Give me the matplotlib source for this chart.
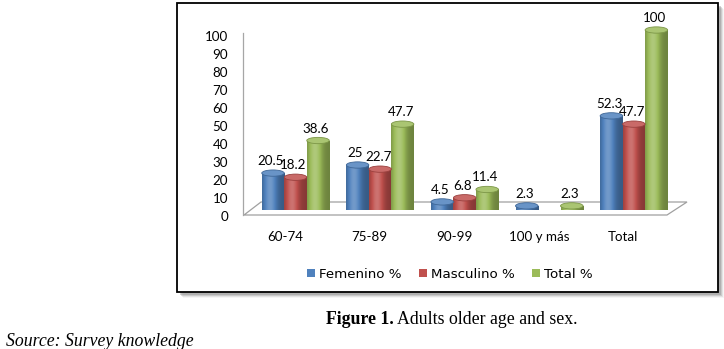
import numpy as np
import matplotlib
matplotlib.use("Agg")
import matplotlib.pyplot as plt
from matplotlib.patches import Ellipse, Patch, Polygon, Rectangle
from matplotlib.lines import Line2D

# age groups and percentages by sex
categories = ["60-74", "75-89", "90-99", "100 y más", "Total"]
femenino = [20.5, 25, 4.5, 2.3, 52.3]
masculino = [18.2, 22.7, 6.8, None, 47.7]
total = [38.6, 47.7, 11.4, 2.3, 100]
series_names = ["Femenino %", "Masculino %", "Total %"]
series_colors = ["#4F81BD", "#C0504D", "#9BBB59"]

W, H = 724, 349
fig = plt.figure(figsize=(W / 100, H / 100), dpi=100)


def px(x, y):
    # pixel position (from top-left) -> figure fraction
    return x / W, 1 - y / H


def ax_rect(left, top, right, bottom):
    return [left / W, 1 - bottom / H, (right - left) / W, (bottom - top) / H]


# frame with a soft drop shadow
for d, a in [(6, 0.08), (5, 0.15), (4, 0.25), (3, 0.35)]:
    fig.add_artist(Rectangle(px(177 + d, 292 + d), (718 - 177) / W, (292 - 3) / H,
                             transform=fig.transFigure, facecolor="#808080",
                             edgecolor="none", alpha=a, zorder=0))
fig.add_artist(Rectangle(px(177, 292), (718 - 177) / W, (292 - 3) / H,
                         transform=fig.transFigure, facecolor="white",
                         edgecolor="black", linewidth=1.3, zorder=1))

# floor of the 3D plot area and the vertical axis line
floor = [px(244, 215), px(261, 202), px(687, 202), px(667, 215)]
fig.add_artist(Polygon(floor, closed=True, transform=fig.transFigure,
                       facecolor="white", edgecolor="#A0A0A0", linewidth=0.9, zorder=2))
fig.add_artist(Line2D([243 / W, 243 / W], [1 - 33 / H, 1 - 215 / H],
                      transform=fig.transFigure, color="#A6A6A6", linewidth=0.9, zorder=2))

xlim = (-0.609, 4.628)
ylim = (0, 100)

# axis used only for the tick labels (shifted like the 3D projection)
lab = fig.add_axes(ax_rect(233.5, 36, 676.5, 216))
lab.set_zorder(3)
lab.set_xlim(xlim)
lab.set_ylim(ylim)
lab.patch.set_visible(False)
for s in lab.spines.values():
    s.set_visible(False)
lab.set_yticks(range(0, 101, 10))
lab.set_xticks(range(len(categories)), categories)
lab.tick_params(axis="both", length=0, labelsize=9.6, colors="black")
lab.tick_params(axis="y", pad=4)
lab.tick_params(axis="x", pad=10.5)
for t in lab.get_xticklabels() + lab.get_yticklabels():
    t.set_fontfamily("Lato")

ax = fig.add_axes(ax_rect(244, 30, 687, 210))
ax.set_zorder(4)
ax.patch.set_visible(False)
ax.axis("off")


def shaded(rgb, n=64):
    t = np.linspace(0, 1, n)
    f = 0.7 + 0.5 * np.exp(-((t - 0.35) / 0.3) ** 2)
    rgb = np.array(rgb)
    out = np.empty((1, n, 3))
    for i, v in enumerate(f):
        if v <= 1:
            out[0, i] = rgb * v
        else:
            out[0, i] = rgb + (1 - rgb) * (v - 1)
    return np.clip(out, 0, 1)


w = 0.266
eh = 3.5
x = np.arange(len(categories))
for k, (vals, color) in enumerate(zip([femenino, masculino, total], series_colors)):
    rgb = matplotlib.colors.to_rgb(color)
    grad = shaded(rgb)
    top_col = np.clip(np.array(rgb) + (1 - np.array(rgb)) * 0.15, 0, 1)
    rim_col = np.array(rgb) * 0.8
    heights = [np.nan if v is None else v for v in vals]
    bars = ax.bar(x + (k - 1) * w, heights, width=w, color=color, linewidth=0, zorder=3)
    for rect, v in zip(bars, vals):
        if v is None:
            continue
        x0 = rect.get_x()
        x1 = x0 + rect.get_width()
        xc = (x0 + x1) / 2
        im = ax.imshow(grad, extent=(x0, x1, -eh / 2, v), aspect="auto", zorder=3.1,
                       interpolation="bilinear")
        im.set_clip_path(rect)
        base = Ellipse((xc, 0), w, eh, facecolor="none", edgecolor="none")
        ax.add_patch(base)
        im2 = ax.imshow(grad, extent=(x0, x1, -eh / 2, eh / 2), aspect="auto",
                        zorder=3.1, interpolation="bilinear")
        im2.set_clip_path(base)
        ax.add_patch(Ellipse((xc, v), w, eh, facecolor=top_col, edgecolor=rim_col,
                             linewidth=0.6, zorder=3.2, clip_on=False))
        ax.annotate(f"{v:g}", (xc, v), xytext=(-2, 12), textcoords="offset pixels",
                    ha="center", va="center", fontsize=9.6, fontfamily="Lato",
                    annotation_clip=False, zorder=4)

ax.set_xlim(xlim)
ax.set_ylim(ylim)

handles = [Patch(facecolor=c, edgecolor="none") for c in series_colors]
leg = fig.legend(handles, series_names, loc="center", bbox_to_anchor=px(450, 274),
                 ncol=3, frameon=False, handlelength=0.6, handleheight=0.6,
                 handletextpad=0.3, columnspacing=1.3, borderpad=0,
                 prop={"family": "DejaVu Sans", "size": 9.6})
leg.set_zorder(5)

# caption and source below the chart
cap = fig.text(*px(326, 324), "Figure 1.", fontfamily="Liberation Serif",
               fontweight="bold", fontsize=12.8, va="baseline")
fig.text(*px(6, 346), "Source: Survey knowledge", fontfamily="Liberation Serif",
         fontstyle="italic", fontsize=12.8, va="baseline")
fig.canvas.draw()
bb = cap.get_window_extent()
fig.text(bb.x1 / W + 3.5 / W, 1 - 324 / H, "Adults older age and sex.",
         fontfamily="Liberation Serif", fontsize=12.8, va="baseline")

fig.savefig("out.png", dpi=100)
